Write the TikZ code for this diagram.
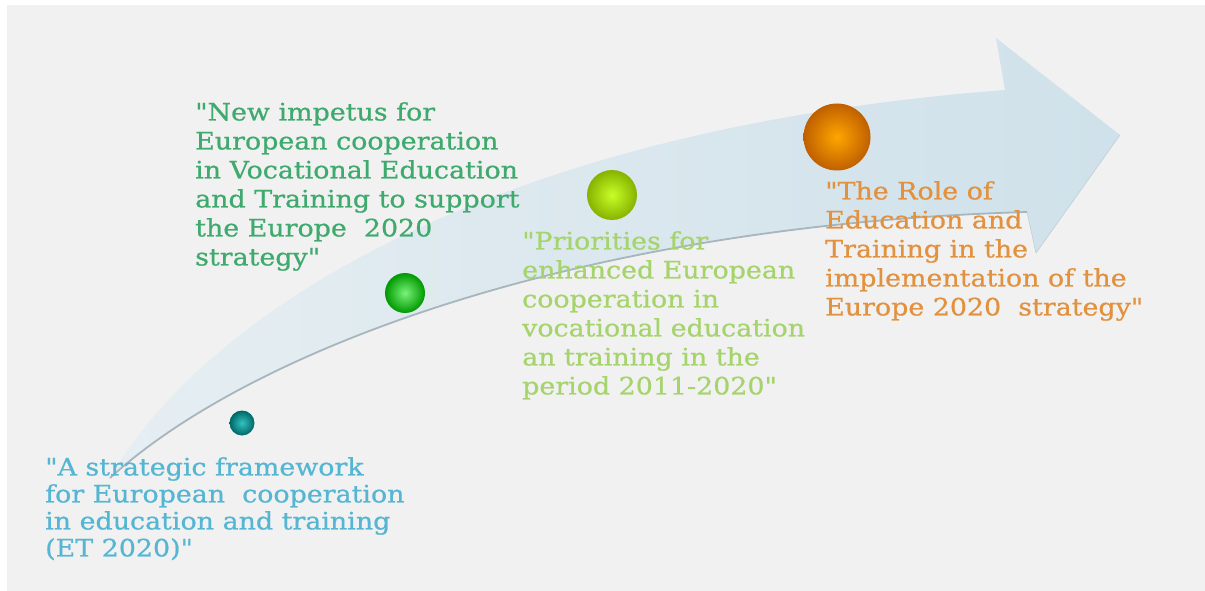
\documentclass[tikz,border=0pt]{standalone}
\usepackage{fontspec}
\setmainfont{DejaVu Serif}[Ligatures=TeXOff, FakeStretch=1.12, FakeBold=0.7]
\usepackage{tikz}
\usetikzlibrary{calc}
\definecolor{bggrey}{HTML}{F1F1F1}
\definecolor{arrowpale}{HTML}{E6EEF2}
\definecolor{arrowblue}{HTML}{CFE1EA}
\definecolor{edgegrey}{HTML}{A7B5BD}
\definecolor{txtblue}{HTML}{55B6D3}
\definecolor{txtgreen}{HTML}{3FAA6E}
\definecolor{txtlime}{HTML}{A6D46C}
\definecolor{txtorange}{HTML}{E2913F}
\tikzset{
  quote/.style={anchor=north west, align=left, inner sep=0pt,
    font=\fontsize{24}{29}\selectfont},
  ball/.style={circle, inner sep=0pt},
}

\begin{document}
\begin{tikzpicture}[x=1pt, y=-1pt]
  \useasboundingbox (0,0) rectangle (1205,591);
  \fill[white] (0,0) rectangle (1205,591);
  \fill[bggrey] (7,5) rectangle (1205,591);

  % the curved arrow
  \coordinate (TAIL) at (110,478);
  \coordinate (NOTCH) at (1005,90);
  \coordinate (TOP) at (996,38);
  \coordinate (TIP) at (1120,135);
  \coordinate (BOT) at (1036,253);
  \coordinate (JOIN) at (1027,212);
  \shade[left color=arrowpale, right color=arrowblue]
    (TAIL) .. controls (200,320) and (480,130) .. (NOTCH)
    -- (TOP) -- (TIP) -- (BOT) -- (JOIN)
    .. controls (580,225) and (250,350) .. (TAIL) -- cycle;
  \draw[edgegrey, line width=1.8pt]
    (JOIN) .. controls (580,225) and (250,350) .. (TAIL);
  \draw[arrowblue!80!gray, line width=0.6pt] (JOIN) -- (BOT) -- (TIP);

  % milestones
  \node[ball, inner color=cyan!40!teal!80, outer color=teal!80!black,
    minimum size=25pt] (B1) at (242,423) {};
  \node[ball, inner color=green!50!white!95!black, outer color=green!60!black,
    minimum size=40pt] (B2) at (405,293) {};
  \node[ball, inner color=lime!85!white, outer color=lime!70!black,
    minimum size=50pt] (B3) at (612,195) {};
  \node[ball, inner color=orange!70!yellow, outer color=orange!75!black,
    minimum size=67pt] (B4) at (837,137) {};

  % labels
  \node[quote, txtblue, font=\fontsize{24}{27}\selectfont] (T1) at (45,457)
    {"A strategic framework\\for European\ \ cooperation\\in education and training\\(ET 2020)"};
  \node[quote, txtgreen] (T2) at (195,102)
    {"New impetus for\\European cooperation\\in Vocational Education\\and Training to support\\the Europe\ \ 2020\\strategy"};
  \node[quote, txtlime] (T3) at (522,231)
    {"Priorities for\\enhanced European\\cooperation in\\vocational education\\an training in the\\period 2011-2020"};
  \node[quote, txtorange] (T4) at (825,181)
    {"The Role of\\Education and\\Training in the\\implementation of the\\Europe 2020\ \ strategy"};
\end{tikzpicture}
\end{document}
